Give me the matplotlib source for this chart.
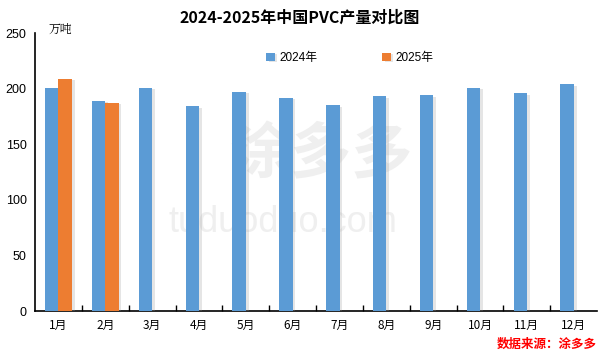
import matplotlib
matplotlib.use("Agg")
import matplotlib.pyplot as plt
import matplotlib.patheffects as pe
from matplotlib.ticker import FixedLocator
import numpy as np

plt.rcParams['font.family'] = ['Liberation Sans', 'Noto Sans CJK SC', 'DejaVu Sans']

months = ['1月', '2月', '3月', '4月', '5月', '6月', '7月', '8月', '9月', '10月', '11月', '12月']
v2024 = [201, 189, 201, 184, 197, 192, 185, 193, 194, 201, 196, 204]
v2025 = [209, 187.5]
yticks = [0, 50, 100, 150, 200, 250]

fig = plt.figure(figsize=(6, 3.6), dpi=100)
ax = fig.add_axes([0.0583, 0.136, 0.937, 0.772])

x = np.arange(len(months))
w = 0.285
shadow = [pe.SimplePatchShadow(offset=(2, -1), shadow_rgbFace='#999999', alpha=0.25), pe.Normal()]
b1 = ax.bar(x - w / 2, v2024, width=w, color='#5B9BD5', label='2024年', zorder=3)
b2 = ax.bar(np.arange(len(v2025)) + w / 2, v2025, width=w, color='#ED7D31', label='2025年', zorder=3)
for b in list(b1) + list(b2):
    b.set_path_effects(shadow)

# watermark
ax.text(5.6, 140, '涂多多', fontsize=44, color='#efefef', ha='center', va='center',
        family=['Noto Sans CJK SC'], fontweight='bold', zorder=1)
ax.text(4.8, 80, 'tuduoduo.com', fontsize=26, color='#efefef', ha='center', va='center', zorder=1)

ax.set_xlim(-0.5, len(months) - 0.5)
ax.set_ylim(0, 250)
ax.set_yticks(yticks)
ax.set_yticklabels([str(t) for t in yticks], fontsize=9)
ax.set_xticks(x)
ax.set_xticklabels(months, fontsize=8.5, family=['Noto Sans CJK SC'])
ax.xaxis.set_minor_locator(FixedLocator(np.arange(0.5, len(months) - 0.5, 1.0)))
ax.tick_params(axis='x', which='major', length=0, pad=6)
ax.tick_params(axis='x', which='minor', direction='in', length=4, width=1)
ax.tick_params(axis='y', which='major', length=0, pad=6)
ax.yaxis.set_minor_locator(FixedLocator([250]))
ax.tick_params(axis='y', which='minor', direction='in', length=4, width=1)

for s in ['top', 'right']:
    ax.spines[s].set_visible(False)
ax.spines['left'].set_linewidth(1.2)
ax.spines['bottom'].set_linewidth(1.2)

fig.text(0.5, 0.95, '2024-2025年中国PVC产量对比图', ha='center', va='center', fontsize=11.5,
         fontweight='heavy', family=['Noto Sans CJK SC'])
fig.text(0.08, 0.915, '万吨', ha='left', va='center', fontsize=8.5, family=['Noto Serif CJK SC', 'Noto Sans CJK SC'])
fig.text(0.995, 0.043, '数据来源：涂多多', ha='right', va='center', fontsize=9, color='red',
         fontweight='bold', family=['Noto Sans CJK SC'])

ax.legend(loc='upper center', bbox_to_anchor=(0.56, 0.97), ncol=2, frameon=False,
          handlelength=0.7, handleheight=0.7, columnspacing=5.5, handletextpad=0.4,
          prop={'family': ['Liberation Sans', 'Noto Sans CJK SC'], 'size': 8.5})

fig.savefig('out.png', dpi=100)
